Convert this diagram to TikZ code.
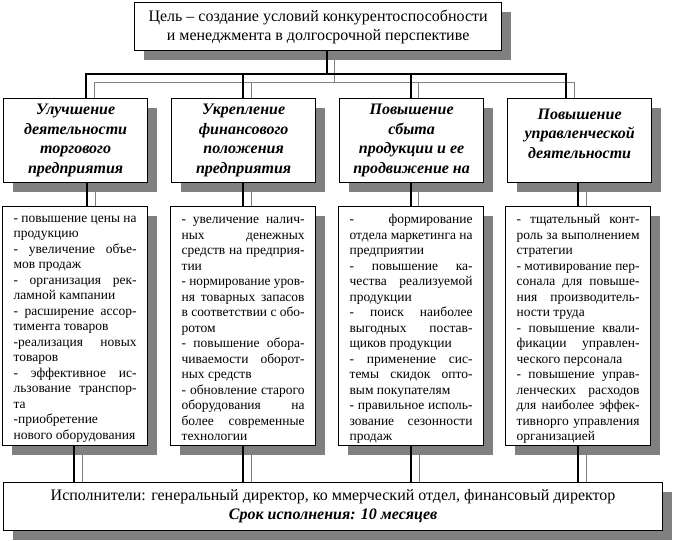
\documentclass[tikz,border=0pt]{standalone}
\usepackage{fontspec}
\usepackage{graphicx}
\setmainfont{Liberation Serif}
\usetikzlibrary{shadows,calc}
\definecolor{shd}{RGB}{128,128,128}
\newlength\bodyw
\setlength\bodyw{123pt}
\newcommand\FitLine[2]{\setbox0=\hbox{#2}%
  \ifdim\wd0>\bodyw
    \pgfmathsetmacro\fitsc{\bodyw/\wd0}%
    \hbox to\bodyw{\scalebox{\fitsc}[1]{\box0}\hss}%
  \else
    \hbox to\bodyw{#2#1}%
  \fi}
\newcommand\JLine[1]{\FitLine{}{#1}}
\newcommand\RLine[1]{\FitLine{\hfil}{#1}}
\tikzset{
  shadowbox/.style={draw=black, line width=1.2pt, fill=white, inner sep=0pt, anchor=north west,
    drop shadow={shadow xshift=9pt, shadow yshift=-9pt, fill=shd, opacity=1, draw=none}},
  goalbox/.style={shadowbox, minimum width=367pt, minimum height=48pt, align=center,
    font=\fontsize{16}{19}\selectfont},
  hdrbox/.style={shadowbox, minimum width=144pt, minimum height=84pt, align=center,
    font=\bfseries\itshape\fontsize{16}{19.5}\selectfont},
  bodybox/.style={shadowbox, minimum width=145pt, minimum height=239pt,
    font=\fontsize{13.5}{15.5}\selectfont},
  finbox/.style={shadowbox, minimum width=659pt, minimum height=48pt, align=center,
    font=\fontsize{16}{19}\selectfont},
  blk/.style={draw=black, line width=1.5pt},
  gry/.style={draw=shd, line width=1pt},
}
\begin{document}
\begin{tikzpicture}[x=1pt,y=-1pt]
\fill[white] (0,0) rectangle (673,541);
\useasboundingbox (0,0) rectangle (673,541);

\node[goalbox] (goal) at (134,2) {Цель – создание условий конкурентоспособности\\и менеджмента в долгосрочной перспективе};

\node[hdrbox] (h1) at (3,98) {Улучшение\\деятельности\\торгового\\предприятия};
\node[hdrbox] (h2) at (171,98) {Укрепление\\финансового\\положения\\предприятия};
\node[hdrbox] (h3) at (339,98) {Повышение\\сбыта\\продукции и ее\\продвижение на};
\node[hdrbox] (h4) at (507,98) {\rule{0pt}{16pt}Повышение\\управленческой\\деятельности\\\mbox{}};

\node[bodybox] (b1) at (2,206) {\vbox{\kern6pt
\JLine{- повышение цены на}
\RLine{продукцию}
\JLine{- увеличение объе-}
\RLine{мов продаж}
\JLine{- организация рек-}
\RLine{ламной кампании}
\JLine{- расширение ассор-}
\RLine{тимента товаров}
\JLine{-реализация новых}
\RLine{товаров}
\JLine{- эффективное ис-}
\JLine{льзование транспор-}
\RLine{та}
\RLine{-приобретение}
\RLine{нового оборудования}}};

\node[bodybox] (b2) at (170,206) {\vbox{\kern6pt
\JLine{- увеличение налич-}
\JLine{ных денежных}
\JLine{средств на предприя-}
\RLine{тии}
\JLine{- нормирование уров-}
\JLine{ня товарных запасов}
\JLine{в соответствии с обо-}
\RLine{ротом}
\JLine{- повышение обора-}
\JLine{чиваемости оборот-}
\RLine{ных средств}
\JLine{- обновление старого}
\JLine{оборудования на}
\JLine{более современные}
\RLine{технологии}}};

\node[bodybox] (b3) at (338,206) {\vbox{\kern6pt
\JLine{- формирование}
\JLine{отдела маркетинга на}
\RLine{предприятии}
\JLine{- повышение ка-}
\JLine{чества реализуемой}
\RLine{продукции}
\JLine{- поиск наиболее}
\JLine{выгодных постав-}
\RLine{щиков продукции}
\JLine{- применение сис-}
\JLine{темы скидок опто-}
\RLine{вым покупателям}
\JLine{- правильное исполь-}
\JLine{зование сезонности}
\RLine{продаж}}};

\node[bodybox] (b4) at (505,206) {\vbox{\kern6pt
\JLine{- тщательный конт-}
\JLine{роль за выполнением}
\RLine{стратегии}
\JLine{- мотивирование пер-}
\JLine{сонала для повыше-}
\JLine{ния производитель-}
\RLine{ности труда}
\JLine{- повышение квали-}
\JLine{фикации управлен-}
\RLine{ческого персонала}
\JLine{- повышение управ-}
\JLine{ленческих расходов}
\JLine{для наиболее эффек-}
\JLine{тивнорго управления}
\RLine{организацией}}};

\node[finbox] (fin) at (3,482) {Исполнители: генеральный директор, ко ммерческий отдел, финансовый директор\\\textbf{\textit{Срок исполнения: 10 месяцев}}};

% coordinates for connectors
\coordinate (busB) at (0,74);
\coordinate (busG) at (0,82);
\coordinate (tb) at (327,0);
\coordinate (tg) at (334,0);
\coordinate (a1b) at (86,0);  \coordinate (a1g) at (94,0);
\coordinate (a2b) at (243,0); \coordinate (a2g) at (251,0);
\coordinate (a3b) at (411,0); \coordinate (a3g) at (418,0);
\coordinate (a4b) at (566,0); \coordinate (a4g) at (574,0);

% gray connectors
\draw[gry] ($(goal.south -| tg)+(0,9)$) -- (tg |- busG);
\draw[gry] (a1g |- h1.north) -- (a1g |- busG) -- (a4g |- busG) -- (a4g |- h4.north);
\draw[gry] (a2g |- busG) -- (a2g |- h2.north);
\draw[gry] (a3g |- busG) -- (a3g |- h3.north);
% black connectors
\draw[blk] (goal.south -| tb) -- (tb |- busB);
\draw[blk] (a1b |- h1.north) -- (a1b |- busB) -- (a4b |- busB) -- (a4b |- h4.north);
\draw[blk] (a2b |- busB) -- (a2b |- h2.north);
\draw[blk] (a3b |- busB) -- (a3b |- h3.north);

\foreach \i/\mb/\mg/\cb/\cg in {1/87/95/74/82, 2/243/251/243/251, 3/411/418/411/419, 4/578/586/578/586}{
  \coordinate (mb\i) at (\mb,0);
  \coordinate (mg\i) at (\mg,0);
  \coordinate (cb\i) at (\cb,0);
  \coordinate (cg\i) at (\cg,0);
  \draw[gry] ($(mg\i |- h\i.south)+(0,9)$) -- (mg\i |- b\i.north);
  \draw[blk] (mb\i |- h\i.south) -- (mb\i |- b\i.north);
  \draw[gry] ($(cg\i |- b\i.south)+(0,9)$) -- (cg\i |- fin.north);
  \draw[blk] (cb\i |- b\i.south) -- (cb\i |- fin.north);
}
\end{tikzpicture}
\end{document}
